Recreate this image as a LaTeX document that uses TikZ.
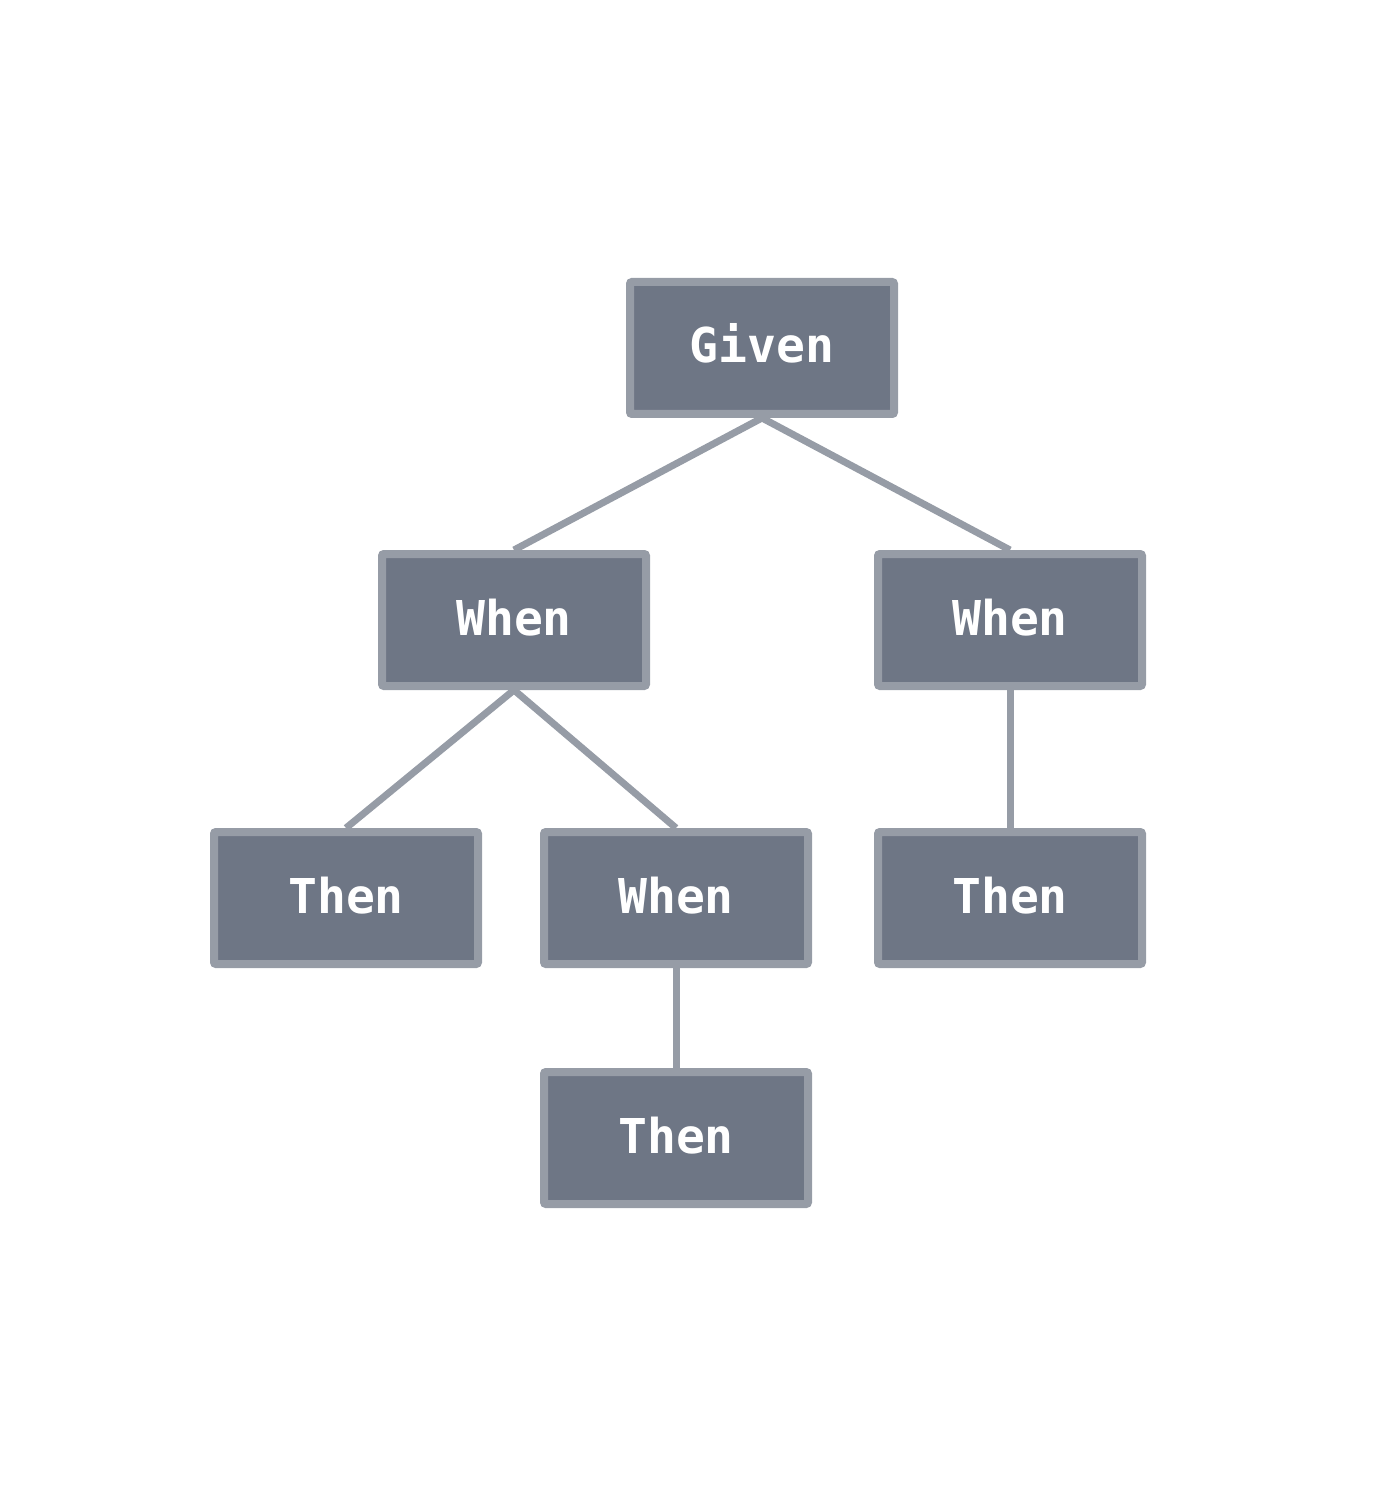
\documentclass[tikz,border=0pt]{standalone}
\usepackage{fontspec}
\setmonofont{DejaVu Sans Mono}
\usetikzlibrary{positioning}
\definecolor{boxfill}{HTML}{6E7685}
\definecolor{boxline}{HTML}{969CA6}

\begin{document}
\begin{tikzpicture}[x=0.5pt,y=-0.5pt,
        stepnode/.style={draw=boxline, fill=boxfill, line width=4pt,
                rounded corners=1pt, minimum width=132pt, minimum height=66pt,
                inner sep=0pt, text height=18pt, text depth=3pt, text=white,
                font=\ttfamily\bfseries\fontsize{24}{28}\selectfont},
        link/.style={draw=boxline, line width=3.5pt}]
        \useasboundingbox (0,0) rectangle (1376,1502);
        \node[stepnode] (given) at (762,348) {Given};
        \node[stepnode] (when_l) at (514,620) {When};
        \node[stepnode] (when_r) at (1010,620) {When};
        \node[stepnode] (then_l) at (346,898) {Then};
        \node[stepnode] (when_m) at (676,898) {When};
        \node[stepnode] (then_r) at (1010,898) {Then};
        \node[stepnode] (then_m) at (676,1138) {Then};
        \path[link]
                (given.south) edge (when_l.north)
                    edge (when_r.north)
                (when_l.south) edge (then_l.north)
                    edge (when_m.north)
                (when_r.south) edge (then_r.north)
                (when_m.south) edge (then_m.north);
    \end{tikzpicture}
\end{document}
